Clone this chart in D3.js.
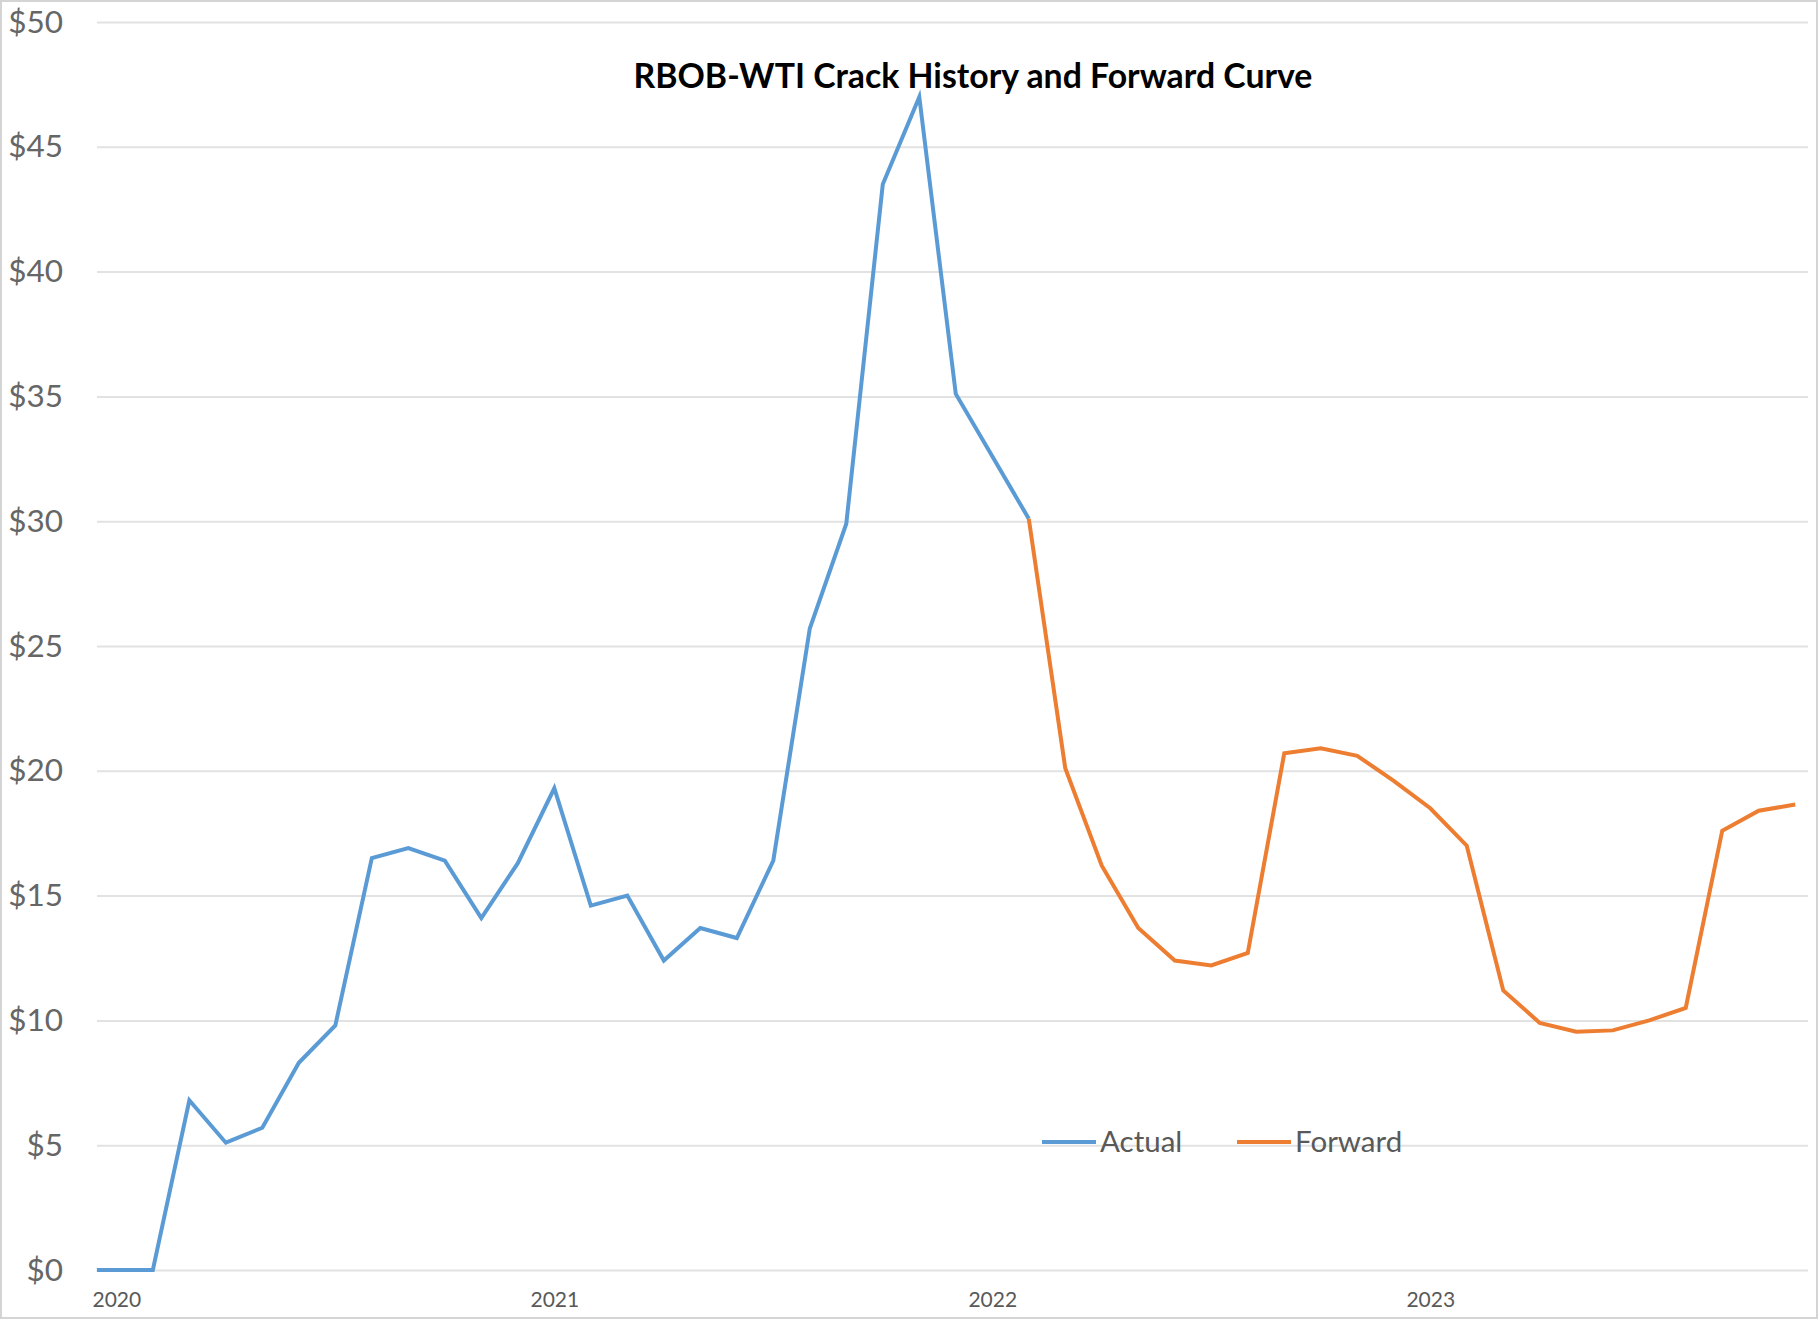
<!DOCTYPE html>
<html>
<head>
<meta charset="utf-8">
<script src="https://cdn.jsdelivr.net/npm/d3@7"></script>
<style>
  body { margin: 0; background: #fff; }
  .tick text { font-family: Lato, "Noto Sans", sans-serif; fill: #595959; }
</style>
</head>
<body>
<div id="chart"></div>
<script>
// Actual crack spread (monthly, first point mid-Dec 2019)
const actualDates = ["2019-12-15", "2020-02", "2020-03", "2020-04", "2020-05", "2020-06",
  "2020-07", "2020-08", "2020-09", "2020-10", "2020-11", "2020-12", "2021-01",
  "2021-02", "2021-03", "2021-04", "2021-05", "2021-06", "2021-07", "2021-08",
  "2021-09", "2021-10", "2021-11", "2021-12", "2022-01", "2022-02"];
const actualValues = [0, 0, 6.8, 5.1, 5.7, 8.3, 9.8, 16.5, 16.9, 16.4, 14.1, 16.3, 19.3,
  14.6, 15.0, 12.4, 13.7, 13.3, 16.4, 25.7, 29.9, 43.5, 47.0, 35.1, 32.6, 30.1];

// Forward curve
const forwardDates = ["2022-02", "2022-03", "2022-04", "2022-05", "2022-06", "2022-07",
  "2022-08", "2022-09", "2022-10", "2022-11", "2022-12", "2023-01", "2023-02",
  "2023-03", "2023-04", "2023-05", "2023-06", "2023-07", "2023-08", "2023-09",
  "2023-10", "2023-11"];
const forwardValues = [30.1, 20.1, 16.2, 13.7, 12.4, 12.2, 12.7, 20.7, 20.9, 20.6, 19.6,
  18.5, 17.0, 11.2, 9.9, 9.55, 9.6, 10.0, 10.5, 17.6, 18.4, 18.65];

const yearLabels = ["2020", "2021", "2022", "2023"];
const yTicks = [0, 5, 10, 15, 20, 25, 30, 35, 40, 45, 50];
const seriesNames = ["Actual", "Forward"];

// months since Jan 2020
function monthIndex(s) {
  const p = s.split("-").map(Number);
  const day = p[2] ? (p[2] - 1) / 30 : 0;
  return (p[0] - 2020) * 12 + (p[1] - 1) + day;
}

class CrackChart {
  constructor(_config) {
    this.config = {
      parentElement: _config.parentElement,
      containerWidth: 1820,
      containerHeight: 1320,
      margin: { top: 22, right: 12, bottom: 50, left: 97 },
      colors: ["#5B9BD5", "#ED7D31"],
    };
    this.initVis();
  }

  initVis() {
    let vis = this;
    const c = vis.config;

    vis.svg = d3
      .select(c.parentElement)
      .append("svg")
      .attr("width", c.containerWidth)
      .attr("height", c.containerHeight);

    // chart border
    vis.svg
      .append("rect")
      .attr("x", 1)
      .attr("y", 1)
      .attr("width", c.containerWidth - 4)
      .attr("height", c.containerHeight - 3)
      .attr("fill", "#fff")
      .attr("stroke", "#d4d4d4")
      .attr("stroke-width", 2);

    vis.width = c.containerWidth - c.margin.left - c.margin.right;
    vis.height = c.containerHeight - c.margin.top - c.margin.bottom;

    vis.chartArea = vis.svg
      .append("g")
      .attr("transform", `translate(${c.margin.left},${c.margin.top})`);

    vis.xScale = d3.scaleLinear().domain([-0.53, 46.35]).range([0, vis.width]);
    vis.yScale = d3.scaleLinear().domain([0, 50]).range([vis.height, 0]);

    // y axis with gridlines
    vis.yAxis = d3
      .axisLeft(vis.yScale)
      .tickValues(yTicks)
      .tickSize(-vis.width)
      .tickPadding(34)
      .tickFormat((d) => "$" + d);

    vis.yAxisG = vis.chartArea.append("g").call(vis.yAxis);
    vis.yAxisG.select(".domain").remove();
    vis.yAxisG
      .selectAll(".tick line")
      .attr("stroke", "#e2e2e2")
      .attr("stroke-width", 2);
    vis.yAxisG
      .selectAll(".tick text")
      .style("font-size", "31.5px")
      .style("fill", "#666");

    // x axis: year labels at January
    vis.xAxis = d3
      .axisBottom(vis.xScale)
      .tickValues(yearLabels.map((y) => monthIndex(y + "-01")))
      .tickSize(0)
      .tickPadding(22)
      .tickFormat((d, i) => yearLabels[i]);

    vis.xAxisG = vis.chartArea
      .append("g")
      .attr("transform", `translate(0,${vis.height})`)
      .call(vis.xAxis);
    vis.xAxisG.select(".domain").remove();
    vis.xAxisG.selectAll(".tick text").style("font-size", "21px");

    // title
    vis.svg
      .append("text")
      .attr("x", 973)
      .attr("y", 88)
      .style("font-family", "Lato, 'Noto Sans', sans-serif")
      .style("font-weight", "bold")
      .style("font-size", "33.8px")
      .style("fill", "#000")
      .style("text-anchor", "middle")
      .text("RBOB-WTI Crack History and Forward Curve");

    vis.updateVis();
  }

  updateVis() {
    let vis = this;
    vis.series = [
      actualDates.map((d, i) => ({ m: monthIndex(d), v: actualValues[i] })),
      forwardDates.map((d, i) => ({ m: monthIndex(d), v: forwardValues[i] })),
    ];
    vis.renderVis();
  }

  renderVis() {
    let vis = this;
    const c = vis.config;

    const line = d3
      .line()
      .x((d) => vis.xScale(d.m))
      .y((d) => vis.yScale(d.v));

    vis.chartArea
      .selectAll(".series")
      .data(vis.series)
      .join("path")
      .attr("class", "series")
      .attr("d", line)
      .attr("fill", "none")
      .attr("stroke", (d, i) => c.colors[i])
      .attr("stroke-width", 4)
      .attr("stroke-linejoin", "miter");

    // legend
    const legendX = [1042, 1237];
    const legendY = 1142;
    const legend = vis.svg
      .selectAll(".legend-item")
      .data(seriesNames)
      .join("g")
      .attr("class", "legend-item")
      .attr("transform", (d, i) => `translate(${legendX[i]},${legendY})`);

    legend
      .append("line")
      .attr("x1", 0)
      .attr("x2", 54)
      .attr("stroke", (d, i) => c.colors[i])
      .attr("stroke-width", 4);

    legend
      .append("text")
      .attr("x", 58)
      .attr("dy", "0.35em")
      .style("font-family", "Lato, 'Noto Sans', sans-serif")
      .style("font-size", "29.5px")
      .style("fill", "#595959")
      .text((d) => d);
  }
}

new CrackChart({ parentElement: "#chart" });
</script>
</body>
</html>
